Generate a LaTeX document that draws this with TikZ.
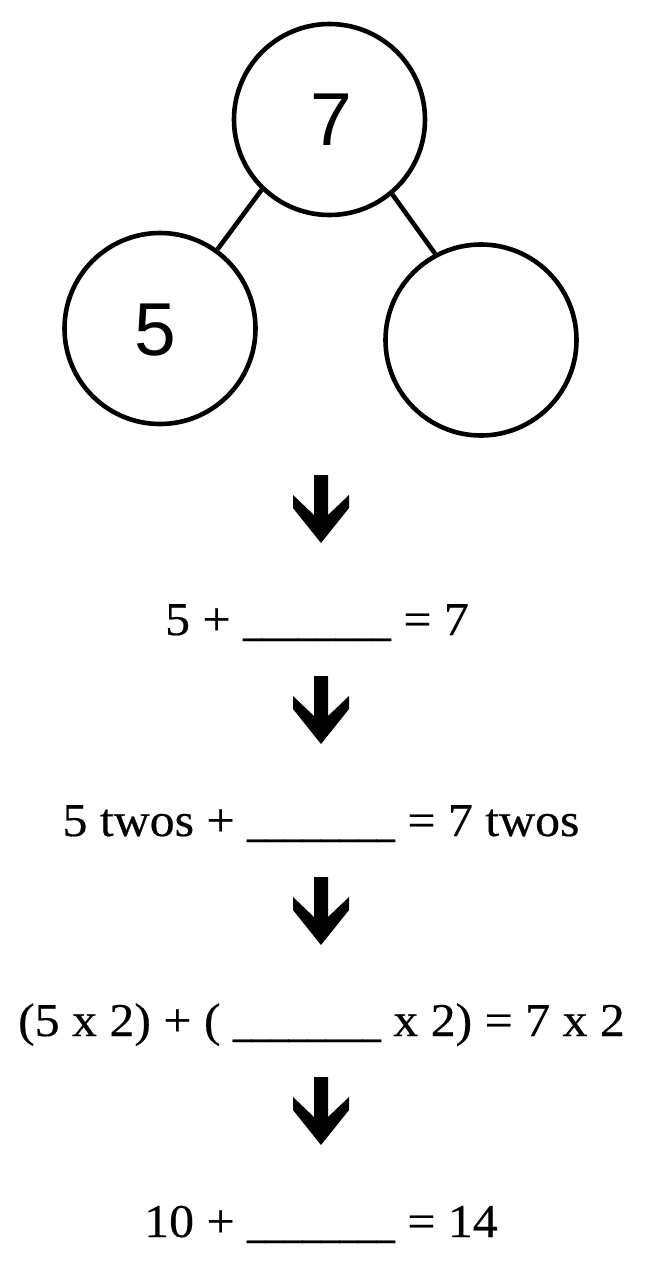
\documentclass[tikz,border=0pt]{standalone}
\usepackage{fontspec}
\usepackage{graphicx}
\setmainfont{Liberation Serif}[FakeStretch=1.06,FakeBold=0.4]
\newfontfamily\digitfont{Liberation Sans}
\newcommand{\blankrun}{\scalebox{0.742}[1]{\_\_\_\_\_\_\_\_}}
\begin{document}
\begin{tikzpicture}[x=1pt,y=-1pt,
  bubble/.style={circle,draw,line width=4.6pt,minimum size=191pt,inner sep=0pt},
  conn/.style={line width=4.6pt},
  digit/.style={inner sep=0pt,font=\digitfont\fontsize{75}{80}\selectfont},
  eqline/.style={anchor=base,inner sep=0pt,font=\fontsize{47}{56}\selectfont},
  bigarrow/.pic={\fill (-7,0) -- (7,0) -- (7,40) -- (28,20) -- (28,33) -- (0,68) -- (-28,33) -- (-28,20) -- (-7,40) -- cycle;}]
\useasboundingbox (0,0) rectangle (650,1263);
\node[bubble] (top) at (329.5,119.5) {};
\node[bubble] (left) at (160,328.5) {};
\node[bubble] (right) at (481,340) {};
\node[digit] (seven) at (331,120) {7};
\node[digit] (five) at (155,330) {5};
\draw[conn] (top.226.6) -- (left.54);
\draw[conn] (top.310.6) -- (right.118.9);
\pic at (321,475) {bigarrow};
\node[eqline] (eq1) at (317,635) {5 + \blankrun{} = 7};
\pic at (321,676) {bigarrow};
\node[eqline] (eq2) at (321,836) {5 twos + \blankrun{} = 7 twos};
\pic at (321,877) {bigarrow};
\node[eqline] (eq3) at (321.5,1036) {(5 x 2) + ( \blankrun{} x 2) = 7 x 2};
\pic at (321,1077) {bigarrow};
\node[eqline] (eq4) at (321,1237) {10 + \blankrun{} = 14};
\end{tikzpicture}
\end{document}
